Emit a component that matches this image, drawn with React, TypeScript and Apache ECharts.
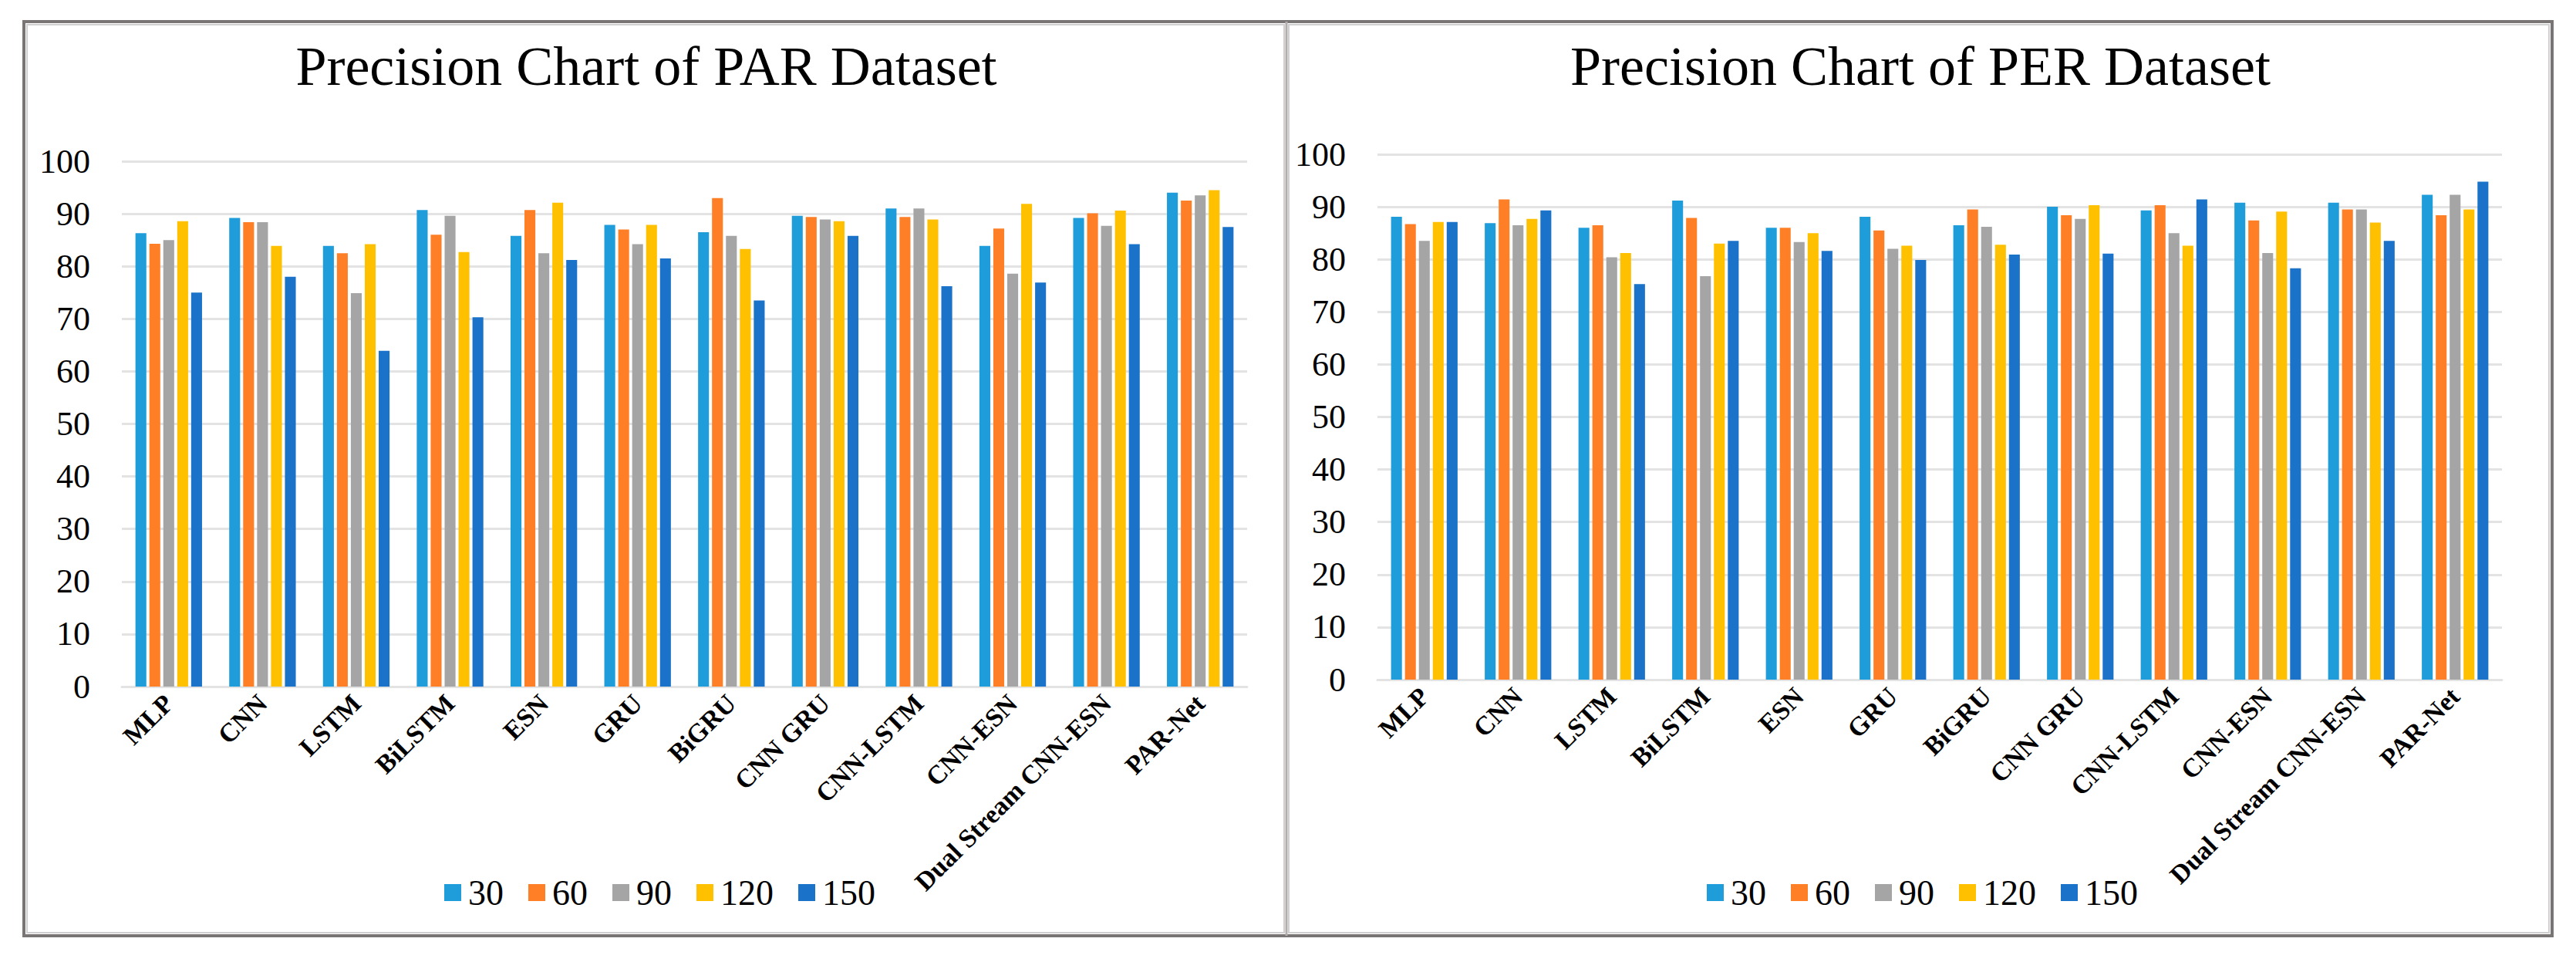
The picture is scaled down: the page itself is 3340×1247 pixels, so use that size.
import React, { useEffect, useRef } from "react";
import * as echarts from "echarts";

const categories = [
  "MLP", "CNN", "LSTM", "BiLSTM", "ESN", "GRU", "BiGRU",
  "CNN GRU", "CNN-LSTM", "CNN-ESN", "Dual Stream CNN-ESN", "PAR-Net",
];
const seriesNames = ["30", "60", "90", "120", "150"];
const colors = ["#1F9CDA", "#FF7F27", "#A5A5A5", "#FFC000", "#1A73C9"];
const yTicks = [0, 10, 20, 30, 40, 50, 60, 70, 80, 90, 100];

const par30 = [86.3, 89.2, 83.9, 90.7, 85.8, 87.9, 86.5, 89.6, 91.0, 83.9, 89.2, 94.0];
const par60 = [84.3, 88.4, 82.5, 86.0, 90.7, 87.0, 93.0, 89.4, 89.4, 87.2, 90.1, 92.5];
const par90 = [85.0, 88.4, 74.9, 89.6, 82.5, 84.2, 85.8, 88.9, 91.0, 78.6, 87.7, 93.5];
const par120 = [88.6, 83.9, 84.2, 82.7, 92.1, 87.9, 83.3, 88.6, 88.9, 91.9, 90.6, 94.5];
const par150 = [75.0, 78.0, 63.9, 70.3, 81.2, 81.5, 73.5, 85.8, 76.2, 76.9, 84.2, 87.5];

const per30 = [88.1, 86.9, 86.0, 91.2, 86.0, 88.1, 86.5, 90.0, 89.3, 90.8, 90.8, 92.3];
const per60 = [86.7, 91.4, 86.5, 87.9, 86.0, 85.5, 89.5, 88.4, 90.3, 87.4, 89.5, 88.4];
const per90 = [83.5, 86.5, 80.4, 76.8, 83.3, 82.0, 86.2, 87.7, 85.0, 81.2, 89.5, 92.3];
const per120 = [87.1, 87.7, 81.2, 83.0, 85.0, 82.6, 82.8, 90.3, 82.6, 89.1, 87.0, 89.5];
const per150 = [87.1, 89.3, 75.3, 83.5, 81.6, 79.9, 80.9, 81.1, 91.4, 78.3, 83.5, 94.8];

const parData = [par30, par60, par90, par120, par150];
const perData = [per30, per60, per90, per120, per150];

const titles = ["Precision Chart of PAR Dataset", "Precision Chart of PER Dataset"];

const SERIF = "Liberation Serif";

export default function App() {
  const ref = useRef<HTMLDivElement>(null);

  useEffect(() => {
    if (!ref.current) return;
    const chart = echarts.init(ref.current, null, { renderer: "svg" });

    const grids = [
      { left: 158, top: 209, width: 1459, height: 681 },
      { left: 1786, top: 200, width: 1458, height: 681 },
    ];

    const xAxes = grids.map((_, i) => ({
      type: "category",
      gridIndex: i,
      data: categories,
      axisLine: { show: true, lineStyle: { color: "#E3E3E3", width: 3 } },
      axisTick: { show: false },
      axisLabel: {
        interval: 0,
        rotate: 45,
        margin: 16,
        color: "#000",
        fontFamily: SERIF,
        fontWeight: "bold",
        fontSize: 34,
      },
    }));

    const yAxes = grids.map((_, i) => ({
      type: "value",
      gridIndex: i,
      min: yTicks[0],
      max: yTicks[yTicks.length - 1],
      interval: 10,
      axisLine: { show: false },
      axisTick: { show: false },
      axisLabel: { margin: 41, color: "#000", fontFamily: SERIF, fontSize: 44 },
      splitLine: { lineStyle: { color: "#E3E3E3", width: 3 } },
    }));

    const series: any[] = [];
    [parData, perData].forEach((set, gi) => {
      set.forEach((vals, si) => {
        series.push({
          type: "bar",
          name: seriesNames[si],
          xAxisIndex: gi,
          yAxisIndex: gi,
          data: vals,
          barCategoryGap: "29%",
          barGap: "28%",
          itemStyle: { color: colors[si] },
        });
      });
    });

    const legendCommon = {
      data: seriesNames,
      orient: "horizontal",
      icon: "rect",
      itemWidth: 22,
      itemHeight: 22,
      itemGap: 32,
      padding: 0,
      textStyle: { fontFamily: SERIF, fontSize: 46, color: "#000", padding: [0, 0, 0, 4] },
    };

    chart.setOption({
      animation: false,
      backgroundColor: "#fff",
      color: colors,
      title: [
        {
          text: titles[0],
          left: 838,
          top: 50,
          textAlign: "center",
          padding: 0,
          textStyle: { fontFamily: SERIF, fontWeight: "normal", fontSize: 72, color: "#000" },
        },
        {
          text: titles[1],
          left: 2490,
          top: 50,
          textAlign: "center",
          padding: 0,
          textStyle: { fontFamily: SERIF, fontWeight: "normal", fontSize: 72, color: "#000" },
        },
      ],
      legend: [
        { ...legendCommon, left: 576, top: 1134 },
        { ...legendCommon, left: 2213, top: 1134 },
      ],
      grid: grids,
      xAxis: xAxes,
      yAxis: yAxes,
      series,
      graphic: [
        {
          type: "rect",
          shape: { x: 31, y: 28, width: 3278, height: 1185 },
          style: { fill: "none", stroke: "#7A7575", lineWidth: 4 },
          silent: true,
        },
        {
          type: "rect",
          shape: { x: 35, y: 32, width: 1630, height: 1177 },
          style: { fill: "none", stroke: "#CFCFCF", lineWidth: 2 },
          silent: true,
        },
        {
          type: "rect",
          shape: { x: 1671, y: 32, width: 1634, height: 1177 },
          style: { fill: "none", stroke: "#CFCFCF", lineWidth: 2 },
          silent: true,
        },
        {
          type: "line",
          shape: { x1: 1668, y1: 28, x2: 1668, y2: 1213 },
          style: { stroke: "#B3ACAC", lineWidth: 3 },
          silent: true,
        },
      ],
    });

    return () => chart.dispose();
  }, []);

  return (
    <div
      ref={ref}
      style={{ position: "fixed", left: 0, top: 0, width: 3340, height: 1247, background: "#fff" }}
    />
  );
}
